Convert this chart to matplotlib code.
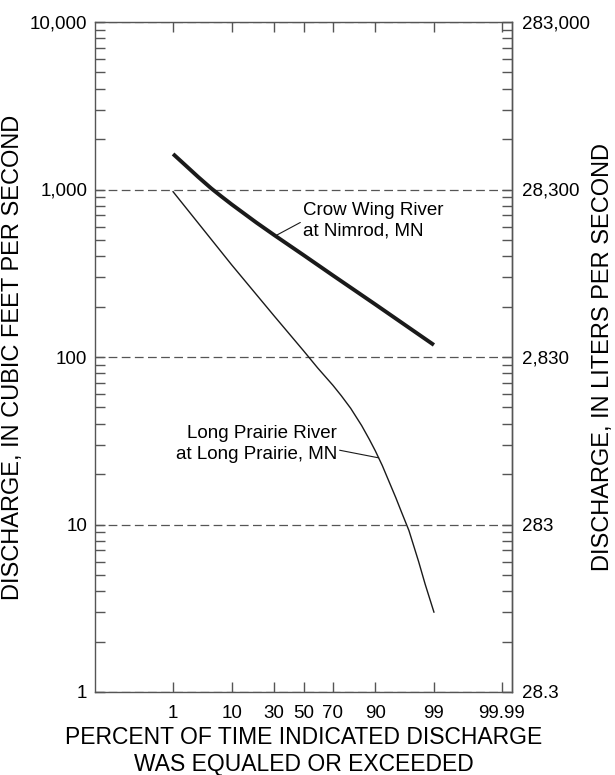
import numpy as np
import matplotlib
matplotlib.use('Agg')
import matplotlib.pyplot as plt
from matplotlib.ticker import FixedLocator, NullFormatter
from statistics import NormalDist

plt.rcParams['font.family'] = ['Liberation Sans', 'DejaVu Sans']

# flow-duration data (percent of time exceeded, discharge in ft3/s)
crow_pct = [1, 2, 3, 5, 7, 10, 20, 30, 50, 70, 90, 99]
crow_cfs = [1630, 1345, 1190, 1015, 915, 815, 635, 535, 406, 307, 206, 118]

long_pct = [1, 10, 30, 50, 60, 70, 75, 80, 85, 88, 90, 92, 94, 95, 96, 97,
            98, 98.5, 99]
long_cfs = [970, 355, 176, 109, 86, 67.8, 58.7, 49.4, 39.0, 32.2, 27.5, 22.5,
            17.1, 14.5, 11.8, 9.2, 6.0, 4.4, 3.0]

x_ticks = [1, 10, 30, 50, 70, 90, 99, 99.98]
x_labels = ['1', '10', '30', '50', '70', '90', '99', '99.99']
y_ticks = [1, 10, 100, 1000, 10000]
y_labels = ['1', '10', '100', '1,000', '10,000']
ls_ticks = [28.3, 283, 2830, 28300, 283000]
ls_labels = ['28.3', '283', '2,830', '28,300', '283,000']
CFS_TO_LS = 28.3

nd = NormalDist()


def prob_fwd(p):
    p = np.clip(np.asarray(p, dtype=float), 1e-7, 100 - 1e-7)
    return np.vectorize(lambda v: nd.inv_cdf(v / 100.0), otypes=[float])(p)


def prob_inv(z):
    z = np.asarray(z, dtype=float)
    return np.vectorize(lambda v: nd.cdf(v) * 100.0, otypes=[float])(z)


fig = plt.figure(figsize=(6.15, 7.75), dpi=100)
ax = fig.add_axes([95 / 615, 1 - 692 / 775, 417 / 615, 670 / 775])

ax.set_xscale('function', functions=(prob_fwd, prob_inv))
ax.set_yscale('log')
ax.set_xlim(0.01, 99.99)
ax.set_ylim(1, 10000)

ax.plot(crow_pct, crow_cfs, color='#1a1a1a', lw=2.8, solid_capstyle='butt',
        solid_joinstyle='round', zorder=3)
ax.plot(long_pct, long_cfs, color='#1a1a1a', lw=1.0, solid_joinstyle='round',
        zorder=3)

grey = '#555555'
for s in ax.spines.values():
    s.set_color(grey)
    s.set_linewidth(1.0)

ax.grid(axis='y', which='major', color=grey, lw=0.9, ls=(0, (7, 3.5)))

ax.xaxis.set_major_locator(FixedLocator(x_ticks))
ax.set_xticklabels(x_labels)
ax.xaxis.set_minor_locator(FixedLocator([]))
ax.tick_params(axis='x', which='both', direction='in', length=7.5, width=1.0,
               color=grey, top=True, bottom=True, labelsize=13.5, pad=9.5)

ax.yaxis.set_major_locator(FixedLocator(y_ticks))
ax.set_yticklabels(y_labels)
ax.yaxis.set_minor_formatter(NullFormatter())
ax.tick_params(axis='y', which='both', direction='in', length=7.5, width=1.0,
               color=grey, right=False, labelsize=13.5, pad=5.5)

sec = ax.secondary_yaxis('right', functions=(lambda v: v * CFS_TO_LS,
                                             lambda v: v / CFS_TO_LS))
sec.spines['right'].set_color(grey)
sec.spines['right'].set_linewidth(1.0)
sec.set_yticks(ls_ticks, labels=ls_labels)
minor_ls = [m * 10 ** e * CFS_TO_LS for e in range(0, 4) for m in range(2, 10)]
sec.yaxis.set_minor_locator(FixedLocator(minor_ls))
sec.yaxis.set_minor_formatter(NullFormatter())
sec.tick_params(which='both', direction='in', length=7.5, width=1.0,
                color=grey, labelsize=13.5, pad=7)

ax.annotate('Crow Wing River\nat Nimrod, MN', xy=(31, 530),
            xytext=(0.499, 0.703), textcoords='axes fraction',
            ha='left', va='center', fontsize=13.5, linespacing=1.25,
            arrowprops=dict(arrowstyle='-', lw=0.8, color='#1a1a1a',
                            relpos=(0, 0.5), shrinkA=0, shrinkB=0))
ax.annotate('Long Prairie River\nat Long Prairie, MN', xy=(91, 25),
            xytext=(0.580, 0.370), textcoords='axes fraction',
            ha='right', va='center', multialignment='right', fontsize=13.5,
            linespacing=1.25,
            arrowprops=dict(arrowstyle='-', lw=0.8, color='#1a1a1a',
                            relpos=(1, 0.35), shrinkA=0, shrinkB=0))

fig.text(13 / 615, 1 - 357 / 775, 'DISCHARGE, IN CUBIC FEET PER SECOND',
         rotation=90, ha='center', va='center', fontsize=17)
fig.text(603 / 615, 1 - 357 / 775, 'DISCHARGE, IN LITERS PER SECOND',
         rotation=90, ha='center', va='center', fontsize=17)
fig.text(303.5 / 615, 1 - 751 / 775,
         'PERCENT OF TIME INDICATED DISCHARGE\nWAS EQUALED OR EXCEEDED',
         ha='center', va='center', fontsize=16.5, linespacing=1.2)

fig.savefig('out.png', dpi=100)
